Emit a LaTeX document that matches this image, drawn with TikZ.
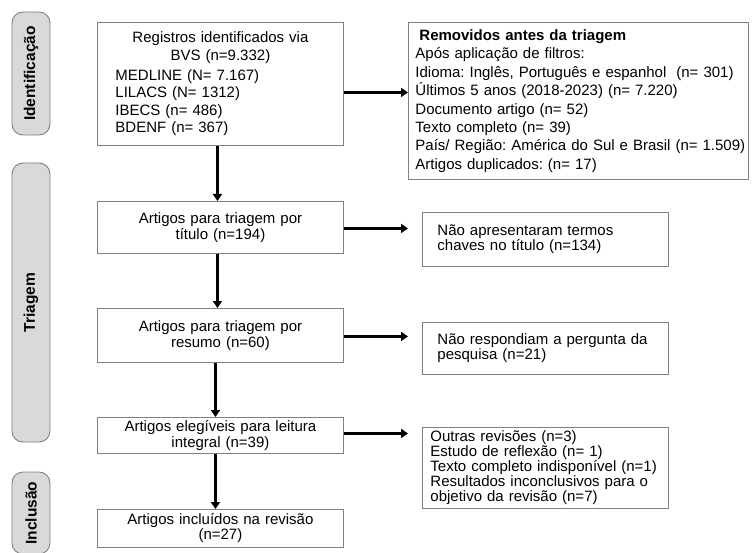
\documentclass[tikz,border=0pt]{standalone}
\usepackage{fontspec}
\setmainfont{Liberation Sans}
\usetikzlibrary{arrows.meta,calc}
\definecolor{boxgray}{HTML}{808080}
\definecolor{labfill}{HTML}{D9D9D9}
\frenchspacing
\begin{document}
\begin{tikzpicture}[x=1pt,y=-1pt,
  box/.style={draw=boxgray, line width=0.9pt, rectangle, anchor=north west, inner sep=0pt,
    font=\fontsize{15}{16}\selectfont},
  lab/.style={draw=boxgray, fill=labfill, line width=0.9pt, rounded corners=11pt, rotate=90,
    font=\fontsize{15.5}{18}\selectfont\bfseries, minimum height=38pt, inner sep=0pt},
  arr/.style={line width=2.2pt, -{Triangle[length=7pt,width=9pt]}}]
\useasboundingbox[fill=white] (0,0) rectangle (752,553);

% phase labels
\node[lab, minimum width=123pt] (l1) at (31,73.5) {Identificação};
\node[lab, minimum width=279pt] (l2) at (31,302.5) {Triagem};
\node[lab, minimum width=82pt] (l3) at (31,513) {Inclusão};

% main column
\node[box, minimum width=246pt, minimum height=123pt, text width=210pt,
  font=\fontsize{15}{17.5}\selectfont] (b1) at (97,22)
  {\centering Registros identificados via\\BVS (n=9.332)\par\vspace{2.5pt}\raggedright
   MEDLINE (N= 7.167)\\LILACS (N= 1312)\\IBECS (n= 486)\\BDENF (n= 367)};
\node[box, minimum width=246pt, minimum height=52pt, text width=210pt, align=center] (b2) at (97,201)
  {Artigos para triagem por\\título (n=194)};
\node[box, minimum width=246pt, minimum height=54pt, text width=210pt, align=center] (b3) at (97,308)
  {Artigos para triagem por\\resumo (n=60)};
\node[box, minimum width=246pt, minimum height=36pt, text width=230pt, align=center] (b4) at (97,417)
  {Artigos elegíveis para leitura\\integral (n=39)};
\node[box, minimum width=246pt, minimum height=38pt, text width=230pt, align=center,
  font=\fontsize{15}{15}\selectfont] (b5) at (97,509)
  {Artigos incluídos na revisão\\(n=27)};

% right column
\node[box, minimum width=340pt, minimum height=157pt, text width=326pt, align=left,
  font=\fontsize{15}{18.4}\selectfont] (rem) at (408,22)
  {\hspace*{4pt}\textbf{Removidos antes da triagem}\\
   Após aplicação de filtros:\\
   \mbox{Idioma: Inglês, Português e espanhol\ \ (n= 301)}\\
   Últimos 5 anos (2018-2023) (n= 7.220)\\
   Documento artigo (n= 52)\\
   Texto completo (n= 39)\\
   \mbox{País/ Região: América do Sul e Brasil (n= 1.509)}\\
   Artigos duplicados: (n= 17)};
\node[box, minimum width=246pt, minimum height=54pt, text width=216pt, align=left,
  font=\fontsize{15}{15}\selectfont] (r2) at (422,212)
  {Não apresentaram termos\\chaves no título (n=134)};
\node[box, minimum width=246pt, minimum height=52pt, text width=216pt, align=left,
  font=\fontsize{15}{15}\selectfont] (r3) at (422,322)
  {Não respondiam a pergunta da\\pesquisa (n=21)};
\node[box, minimum width=246pt, minimum height=81pt, text width=230pt, align=left,
  font=\fontsize{15}{15}\selectfont] (r4) at (422,427)
  {Outras revisões (n=3)\\Estudo de reflexão (n= 1)\\\mbox{Texto completo indisponível (n=1)}\\Resultados inconclusivos para o\\objetivo da revisão (n=7)};

% vertical arrows
\draw[arr] ([xshift=-3pt]b1.south) -- ([xshift=-3pt]b2.north);
\draw[arr] ([xshift=-3pt]b2.south) -- ([xshift=-3pt]b3.north);
\draw[arr] ([xshift=-5pt]b3.south) -- ([xshift=-5pt]b4.north);
\draw[arr] ([xshift=-5pt]b4.south) -- ([xshift=-5pt]b5.north);

% horizontal arrows
\draw[arr] ($(b1.east)+(0,8.5)$) -- ($(b1.east -| rem.west)+(0,8.5)$);
\draw[arr] ($(b2.east)+(0,1)$) -- ($(b2.east -| r2.west)+(-14,1)$);
\draw[arr] ($(b3.east)+(0,1)$) -- ($(b3.east -| r3.west)+(-14,1)$);
\draw[arr] ($(b4.east)+(0,-2)$) -- ($(b4.east -| r4.west)+(-14,-2)$);
\end{tikzpicture}
\end{document}
